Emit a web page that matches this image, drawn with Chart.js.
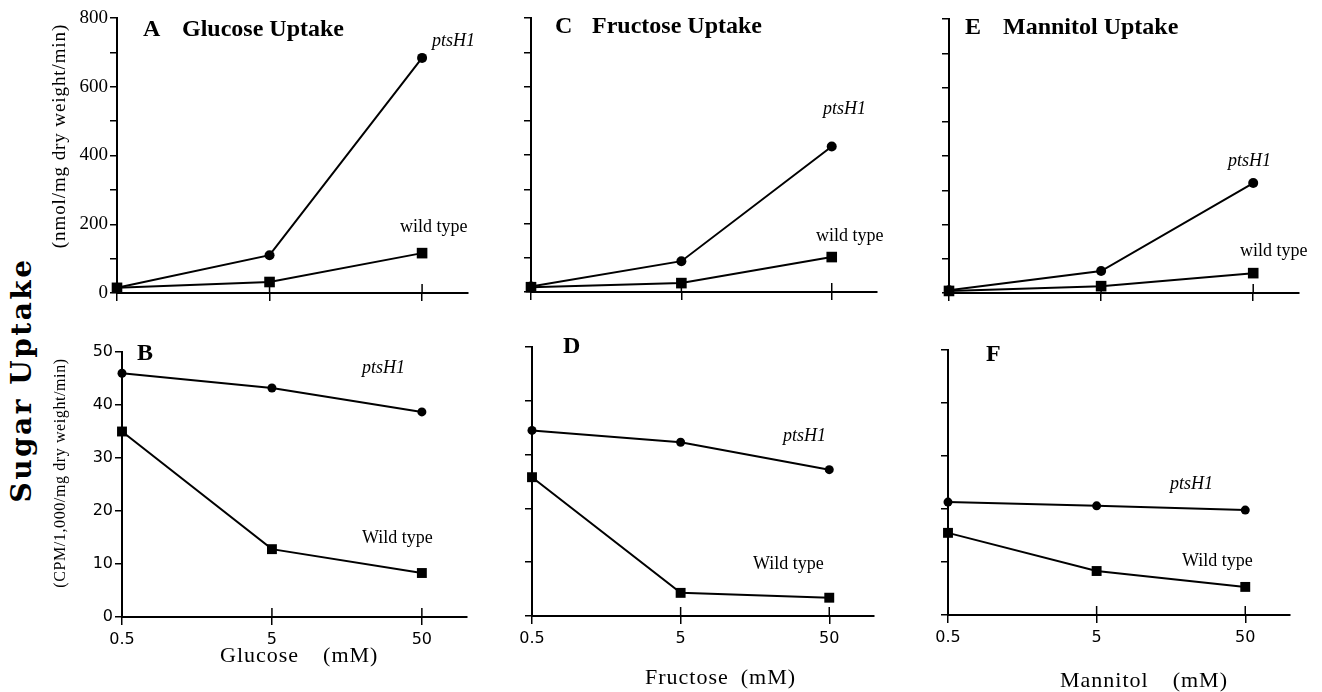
<!DOCTYPE html>
<html>
<head>
<meta charset="utf-8">
<script src="https://cdn.jsdelivr.net/npm/chart.js@4"></script>
<style>
  html, body { margin: 0; padding: 0; background: #fff; }
  #page { position: relative; width: 1322px; height: 692px; overflow: hidden; background: #fff; }
  canvas { position: absolute; }
  .txt { position: absolute; white-space: nowrap; color: #000; font-family: "Liberation Serif", serif; transform: translateY(-50%); line-height: 1; z-index: 5; }
  .rot { position: absolute; white-space: nowrap; color: #000; font-family: "Liberation Serif", serif; transform: translate(-50%, -50%) rotate(-90deg); line-height: 1; z-index: 5; }
  .ttl { font-weight: bold; font-size: 24px; }
  .pts { font-style: italic; font-size: 18px; }
  .wt { font-size: 18px; }
  .xt { font-size: 22px; letter-spacing: 1px; }
</style>
</head>
<body>
<div id="page"></div>
<script>
// DATA
const concs = [0.5, 5, 50];

// uptake, nmol/mg dry weight/min
const glucoseUptakePts = [15, 110, 684];
const glucoseUptakeWt = [15, 32, 116];
const fructoseUptakePts = [16, 90, 425];
const fructoseUptakeWt = [14, 26, 102];
const mannitolUptakePts = [8, 64, 321];
const mannitolUptakeWt = [6, 20, 58];

// CPM/1,000/mg dry weight/min
const glucoseCpmPts = [46, 43.2, 38.7];
const glucoseCpmWt = [35, 12.8, 8.3];
const fructoseCpmPts = [34.5, 32.3, 27.2];
const fructoseCpmWt = [25.8, 4.3, 3.4];
const mannitolCpmPts = [21.3, 20.6, 19.8];
const mannitolCpmWt = [15.5, 8.3, 5.3];

const uptakeTicks = [0, 200, 400, 600, 800];
const cpmTicks = [0, 10, 20, 30, 40, 50];

// LAYOUT
const PAD_L = 75, PAD_R = 14, PAD_T = 14, PAD_B = 50;
const page = document.getElementById('page');

// small upward half of the x ticks at 5 and 50 (crossing ticks)
const crossTicks = {
    id: 'crossTicks',
    afterDraw(chart) {
        const { ctx, chartArea, scales } = chart;
        ctx.save();
        ctx.strokeStyle = '#000';
        ctx.lineWidth = 1.5;
        concs.slice(1).forEach(v => {
            const px = scales.x.getPixelForValue(v);
            ctx.beginPath();
            ctx.moveTo(px, chartArea.bottom);
            ctx.lineTo(px, chartArea.bottom - 9);
            ctx.stroke();
        });
        ctx.restore();
    }
};

function makePanel(p) {
    const w = p.right - p.left + PAD_L + PAD_R;
    const h = p.bottom - p.top + PAD_T + PAD_B;
    const cv = document.createElement('canvas');
    cv.width = w; cv.height = h;
    cv.style.left = (p.left - PAD_L) + 'px';
    cv.style.top = (p.top - PAD_T) + 'px';
    cv.style.width = w + 'px'; cv.style.height = h + 'px';
    page.appendChild(cv);

    new Chart(cv.getContext('2d'), {
        type: 'line',
        data: {
            datasets: [
                {
                    label: 'ptsH1',
                    data: concs.map((c, i) => ({ x: c, y: p.pts[i] })),
                    borderColor: '#000', backgroundColor: '#000', borderWidth: 2,
                    pointStyle: 'circle', pointRadius: p.dot, pointBorderWidth: 0,
                    clip: false
                },
                {
                    label: 'wild type',
                    data: concs.map((c, i) => ({ x: c, y: p.wt[i] })),
                    borderColor: '#000', backgroundColor: '#000', borderWidth: 2,
                    pointStyle: 'rect', pointRadius: p.sq, pointBorderWidth: 0,
                    clip: false
                }
            ]
        },
        options: {
            responsive: false,
            animation: false,
            layout: { padding: { left: 0, right: PAD_R, top: PAD_T, bottom: 0 } },
            plugins: { legend: { display: false }, tooltip: { enabled: false } },
            scales: {
                x: {
                    type: 'logarithmic',
                    min: 0.5, max: 100,
                    afterBuildTicks: a => { a.ticks = concs.map(v => ({ value: v })); },
                    afterFit: a => { a.height = PAD_B; },
                    ticks: {
                        autoSkip: false, maxRotation: 0, padding: 5, color: '#000',
                        font: { family: 'DejaVu Sans', size: 16 },
                        callback: v => p.xLabels ? String(v) : ''
                    },
                    grid: { drawOnChartArea: false, drawTicks: true, tickLength: 8, color: '#000', lineWidth: 1.5 },
                    border: { color: '#000', width: 2 }
                },
                y: {
                    min: 0, max: p.ymax,
                    afterBuildTicks: a => {
                        const out = [];
                        for (let v = 0; v <= p.ymax; v += p.step) out.push({ value: v });
                        a.ticks = out;
                    },
                    afterFit: a => { a.width = PAD_L; },
                    ticks: {
                        padding: 2, color: '#000',
                        font: p.yFont,
                        callback: v => (p.yLabels && p.yLabels.includes(v)) ? String(v) : ''
                    },
                    grid: { drawOnChartArea: false, drawTicks: true, tickLength: 7, color: '#000', lineWidth: 1.5 },
                    border: { color: '#000', width: 2 }
                }
            }
        },
        plugins: [crossTicks]
    });
}

const serifTick = { family: 'Liberation Serif', size: 19 };
const sansTick = { family: 'DejaVu Sans', size: 16 };

// top row: uptake
makePanel({ left: 117, right: 468, top: 18, bottom: 293, ymax: 800, step: 100, yLabels: uptakeTicks, yFont: serifTick,
    pts: glucoseUptakePts, wt: glucoseUptakeWt, dot: 5, sq: 7.5, xLabels: false });
makePanel({ left: 531, right: 877, top: 18, bottom: 292, ymax: 800, step: 100, yLabels: null, yFont: serifTick,
    pts: fructoseUptakePts, wt: fructoseUptakeWt, dot: 5, sq: 7.5, xLabels: false });
makePanel({ left: 949, right: 1299, top: 19, bottom: 293, ymax: 800, step: 100, yLabels: null, yFont: serifTick,
    pts: mannitolUptakePts, wt: mannitolUptakeWt, dot: 5, sq: 7.5, xLabels: false });

// bottom row: CPM
makePanel({ left: 122, right: 467, top: 352, bottom: 617, ymax: 50, step: 10, yLabels: cpmTicks, yFont: sansTick,
    pts: glucoseCpmPts, wt: glucoseCpmWt, dot: 4.5, sq: 7, xLabels: true });
makePanel({ left: 532, right: 874, top: 347, bottom: 616, ymax: 50, step: 10, yLabels: null, yFont: sansTick,
    pts: fructoseCpmPts, wt: fructoseCpmWt, dot: 4.5, sq: 7, xLabels: true });
makePanel({ left: 948, right: 1290, top: 350, bottom: 615, ymax: 50, step: 10, yLabels: null, yFont: sansTick,
    pts: mannitolCpmPts, wt: mannitolCpmWt, dot: 4.5, sq: 7, xLabels: true });

// TEXT
function addText(text, cls, x, y, extra) {
    const d = document.createElement('div');
    d.className = cls;
    d.textContent = text;
    d.style.left = x + 'px';
    d.style.top = y + 'px';
    if (extra) Object.assign(d.style, extra);
    page.appendChild(d);
}

// panel titles
addText('A', 'txt ttl', 143, 28);
addText('Glucose Uptake', 'txt ttl', 182, 28);
addText('C', 'txt ttl', 555, 25);
addText('Fructose Uptake', 'txt ttl', 592, 25);
addText('E', 'txt ttl', 965, 26);
addText('Mannitol Uptake', 'txt ttl', 1003, 26);
addText('B', 'txt ttl', 137, 352);
addText('D', 'txt ttl', 563, 345);
addText('F', 'txt ttl', 986, 353);

// series labels
addText('ptsH1', 'txt pts', 432, 40);
addText('wild type', 'txt wt', 400, 226);
addText('ptsH1', 'txt pts', 823, 108);
addText('wild type', 'txt wt', 816, 235);
addText('ptsH1', 'txt pts', 1228, 160);
addText('wild type', 'txt wt', 1240, 250);
addText('ptsH1', 'txt pts', 362, 367);
addText('Wild type', 'txt wt', 362, 537);
addText('ptsH1', 'txt pts', 783, 435);
addText('Wild type', 'txt wt', 753, 563);
addText('ptsH1', 'txt pts', 1170, 483);
addText('Wild type', 'txt wt', 1182, 560);

// x axis titles
addText('Glucose\u2002\u2002(mM)', 'txt xt', 220, 655);
addText('Fructose\u2002(mM)', 'txt xt', 645, 677);
addText('Mannitol\u2002\u2002(mM)', 'txt xt', 1060, 680);

// y axis titles
addText('Sugar Uptake', 'rot', 22, 380, { fontFamily: 'DejaVu Serif', fontWeight: 'bold', fontSize: '28px', letterSpacing: '2.5px' });
addText('(nmol/mg dry weight/min)', 'rot', 58, 136, { fontSize: '19px', letterSpacing: '0.9px' });
addText('(CPM/1,000/mg dry weight/min)', 'rot', 60, 473, { fontSize: '16px', letterSpacing: '0.6px' });
</script>
</body>
</html>
